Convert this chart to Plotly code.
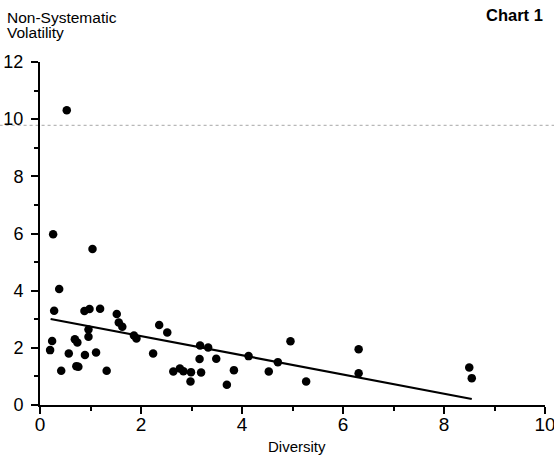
import plotly.graph_objects as go

diversity = [0.53, 0.26, 1.04, 0.38, 0.28, 0.88, 0.98, 1.19, 1.52, 1.56,
             1.63, 0.96, 0.96, 1.86, 1.91, 0.69, 0.74, 0.24, 0.20, 0.57,
             0.89, 1.11, 0.42, 0.72, 0.76, 1.32, 2.24, 2.36, 2.52, 3.17,
             3.33, 3.16, 3.49, 2.64, 2.77, 2.84, 2.99, 3.19, 2.98, 3.84,
             3.70, 4.13, 4.96, 4.71, 4.53, 5.27, 6.31, 6.31, 8.50, 8.55]
volatility = [10.31, 5.97, 5.46, 4.06, 3.30, 3.29, 3.36, 3.37, 3.18, 2.89,
              2.74, 2.64, 2.39, 2.43, 2.33, 2.30, 2.19, 2.24, 1.92, 1.80,
              1.75, 1.84, 1.20, 1.36, 1.34, 1.20, 1.80, 2.80, 2.54, 2.08,
              2.01, 1.61, 1.62, 1.17, 1.28, 1.18, 1.15, 1.14, 0.82, 1.22,
              0.71, 1.71, 2.23, 1.50, 1.17, 0.82, 1.95, 1.11, 1.31, 0.94]
trend_x = [0.21, 8.55]
trend_y = [3.01, 0.21]
x_ticks = [0, 2, 4, 6, 8, 10]
y_ticks = [0, 2, 4, 6, 8, 10, 12]
artifact_y = 9.78

FONT = "Liberation Sans, Arial, Helvetica, sans-serif"

fig = go.Figure()
fig.add_trace(go.Scatter(x=trend_x, y=trend_y, mode="lines",
                         line=dict(color="black", width=2.2),
                         showlegend=False, hoverinfo="skip"))
fig.add_trace(go.Scatter(x=diversity, y=volatility, mode="markers",
                         marker=dict(color="black", size=8.5),
                         showlegend=False))

fig.add_shape(type="line", xref="paper", yref="y", x0=-0.08, x1=1.02,
              y0=artifact_y, y1=artifact_y,
              line=dict(color="#b8b8b8", width=1.2, dash="dot"), layer="below")

axis_common = dict(showgrid=False, zeroline=False, showline=True, linecolor="black",
                   linewidth=2, ticks="outside", ticklen=7, tickwidth=2,
                   tickcolor="black", automargin=False,
                   minor=dict(dtick=1, ticks="outside", ticklen=4, tickwidth=1.5,
                              tickcolor="black", showgrid=False))

fig.update_layout(
    width=554, height=457,
    margin=dict(l=40, r=9, t=62, b=52, autoexpand=False),
    paper_bgcolor="white", plot_bgcolor="white",
    font=dict(family=FONT, color="black", size=16),
    xaxis=dict(range=[0, 10], tickvals=x_ticks, ticktext=[str(v) for v in x_ticks],
               ticklabeloverflow="allow", ticklabelstandoff=-6,
               tickfont=dict(size=19, family=FONT, color="black"), **axis_common),
    yaxis=dict(range=[0, 12], tickvals=y_ticks, ticktext=[str(v) for v in y_ticks],
               ticklabeloverflow="allow", ticklabelstandoff=4,
               tickfont=dict(size=18, family=FONT, color="black"), **axis_common),
    annotations=[
        dict(text="Non-Systematic", xref="paper", yref="paper",
             x=-0.069, y=1.131, xanchor="left", yanchor="middle", align="left",
             showarrow=False, font=dict(size=15.5, family=FONT)),
        dict(text="Volatility", xref="paper", yref="paper",
             x=-0.069, y=1.087, xanchor="left", yanchor="middle", align="left",
             showarrow=False, font=dict(size=15.5, family=FONT)),
        dict(text="<b>Chart 1</b>", xref="paper", yref="paper",
             x=1.0, y=1.137, xanchor="right", yanchor="middle",
             showarrow=False, font=dict(size=16.5, family=FONT)),
        dict(text="Diversity", xref="paper", yref="paper",
             x=0.509, y=-0.1224, xanchor="center", yanchor="middle",
             showarrow=False, font=dict(size=15, family=FONT)),
    ],
)

fig.write_html("out.html", config={"displayModeBar": False},
               post_script="document.body.style.margin='0';document.body.style.overflow='hidden';")
